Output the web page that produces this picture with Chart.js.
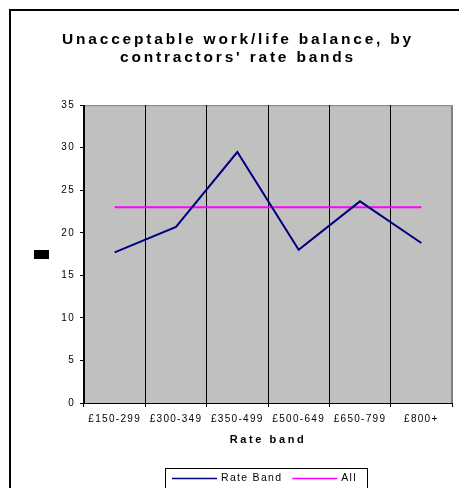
<!DOCTYPE html>
<html>
<head>
<meta charset="utf-8">
<script src="https://cdn.jsdelivr.net/npm/chart.js@4.4.1/dist/chart.umd.min.js"></script>
<style>
  html, body { margin: 0; padding: 0; background: #fff; }
  #wrap { width: 459px; height: 488px; position: relative; }
</style>
</head>
<body>
<div id="wrap"><canvas id="rateChart"></canvas></div>
<script>
const categories = ['£150-299', '£300-349', '£350-499', '£500-649', '£650-799', '£800+'];
const rateBandValues = [17.7, 20.7, 29.5, 18.0, 23.7, 18.8];
const allValues = [23, 23, 23, 23, 23, 23];
const yMin = 0, yMax = 35, yStep = 5;

const FONT = "'Liberation Sans', Arial, sans-serif";
const SPACING = '1.3px';

// run a draw function with wider letter spacing (old Excel text look)
function spaced(fn, spacing) {
    return function() {
        const ctx = this.ctx;
        ctx.save();
        ctx.letterSpacing = spacing;
        fn.apply(this, arguments);
        ctx.restore();
    };
}

// grey plot area, outer frame, the black y-title block and the boxed legend
const excelLook = {
    id: 'excelLook',
    beforeLayout(chart) {
        chart.ctx.letterSpacing = SPACING;
    },
    beforeDraw(chart) {
        const ctx = chart.ctx, a = chart.chartArea;
        ctx.letterSpacing = SPACING;
        if (chart.titleBlock && !chart.titleBlock._spaced) {
            chart.titleBlock.draw = spaced(chart.titleBlock.draw, '2.8px');
            chart.titleBlock._spaced = true;
        }
        const xs = chart.scales.x;
        if (xs && !xs._spaced) {
            xs.drawTitle = spaced(xs.drawTitle, '2.6px');
            xs._spaced = true;
        }
        ctx.save();
        ctx.fillStyle = '#c0c0c0';
        ctx.fillRect(a.left, a.top, a.right - a.left, a.bottom - a.top);
        ctx.strokeStyle = '#808080';
        ctx.lineWidth = 1;
        ctx.strokeRect(a.left + 0.5, a.top + 0.5, a.right - a.left - 1, a.bottom - a.top);
        ctx.restore();
    },
    afterDraw(chart) {
        const ctx = chart.ctx;
        ctx.save();
        ctx.strokeStyle = '#000';
        ctx.lineWidth = 2;
        ctx.strokeRect(10, 10, 480, 500);

        ctx.fillStyle = '#000';
        ctx.fillRect(34, 250, 15, 9);

        // legend
        ctx.lineWidth = 1;
        ctx.strokeRect(165.5, 468.5, 202, 40);
        ctx.font = '10.5px ' + FONT;
        ctx.textBaseline = 'middle';
        ctx.textAlign = 'left';
        let x = 172;
        const y = 478.5;
        chart.data.datasets.forEach(ds => {
            ctx.strokeStyle = ds.borderColor;
            ctx.lineWidth = 1.5;
            ctx.beginPath();
            ctx.moveTo(x, y);
            ctx.lineTo(x + 45, y);
            ctx.stroke();
            x += 49;
            ctx.fillStyle = '#000';
            ctx.fillText(ds.label, x, y);
            x += ctx.measureText(ds.label).width + 10;
        });
        ctx.restore();
    }
};

new Chart(document.getElementById('rateChart'), {
    type: 'line',
    data: {
        labels: categories,
        datasets: [{
            label: 'Rate Band',
            data: rateBandValues,
            borderColor: '#000080',
            borderWidth: 2,
            pointRadius: 0,
            tension: 0,
            fill: false
        }, {
            label: 'All',
            data: allValues,
            borderColor: '#ff00ff',
            borderWidth: 2,
            pointRadius: 0,
            tension: 0,
            fill: false
        }]
    },
    options: {
        responsive: true,
        maintainAspectRatio: false,
        animation: false,
        layout: { padding: { left: 24, right: 7, top: 0, bottom: 35 } },
        plugins: {
            legend: { display: false },
            tooltip: { enabled: false },
            title: {
                display: true,
                text: ['Unacceptable work/life balance, by', "contractors' rate bands"],
                color: '#000',
                font: { family: FONT, size: 15.5, weight: 'bold', lineHeight: 1.2 },
                padding: { top: 30, bottom: 38 }
            }
        },
        scales: {
            x: {
                offset: true,
                grid: {
                    offset: true,
                    color: c => c.type === 'tick' ? '#000' : '#808080',
                    tickColor: '#000',
                    tickLength: 4
                },
                border: { color: '#000' },
                ticks: {
                    color: '#000',
                    font: { family: FONT, size: 10 },
                    padding: 6,
                    maxRotation: 0,
                    autoSkip: false
                },
                title: {
                    display: true,
                    text: 'Rate band',
                    color: '#000',
                    font: { family: FONT, size: 11, weight: 'bold' },
                    padding: { top: 4, bottom: 6 }
                },
                afterFit(s) { s.height = 50; }
            },
            y: {
                min: yMin,
                max: yMax,
                grid: { drawOnChartArea: false, tickLength: 4, tickColor: '#000' },
                border: { color: '#000' },
                ticks: {
                    stepSize: yStep,
                    color: '#000',
                    font: { family: FONT, size: 10 },
                    padding: 5
                },
                afterFit(s) { s.width = 60; }
            }
        }
    },
    plugins: [excelLook]
});
</script>
</body>
</html>
